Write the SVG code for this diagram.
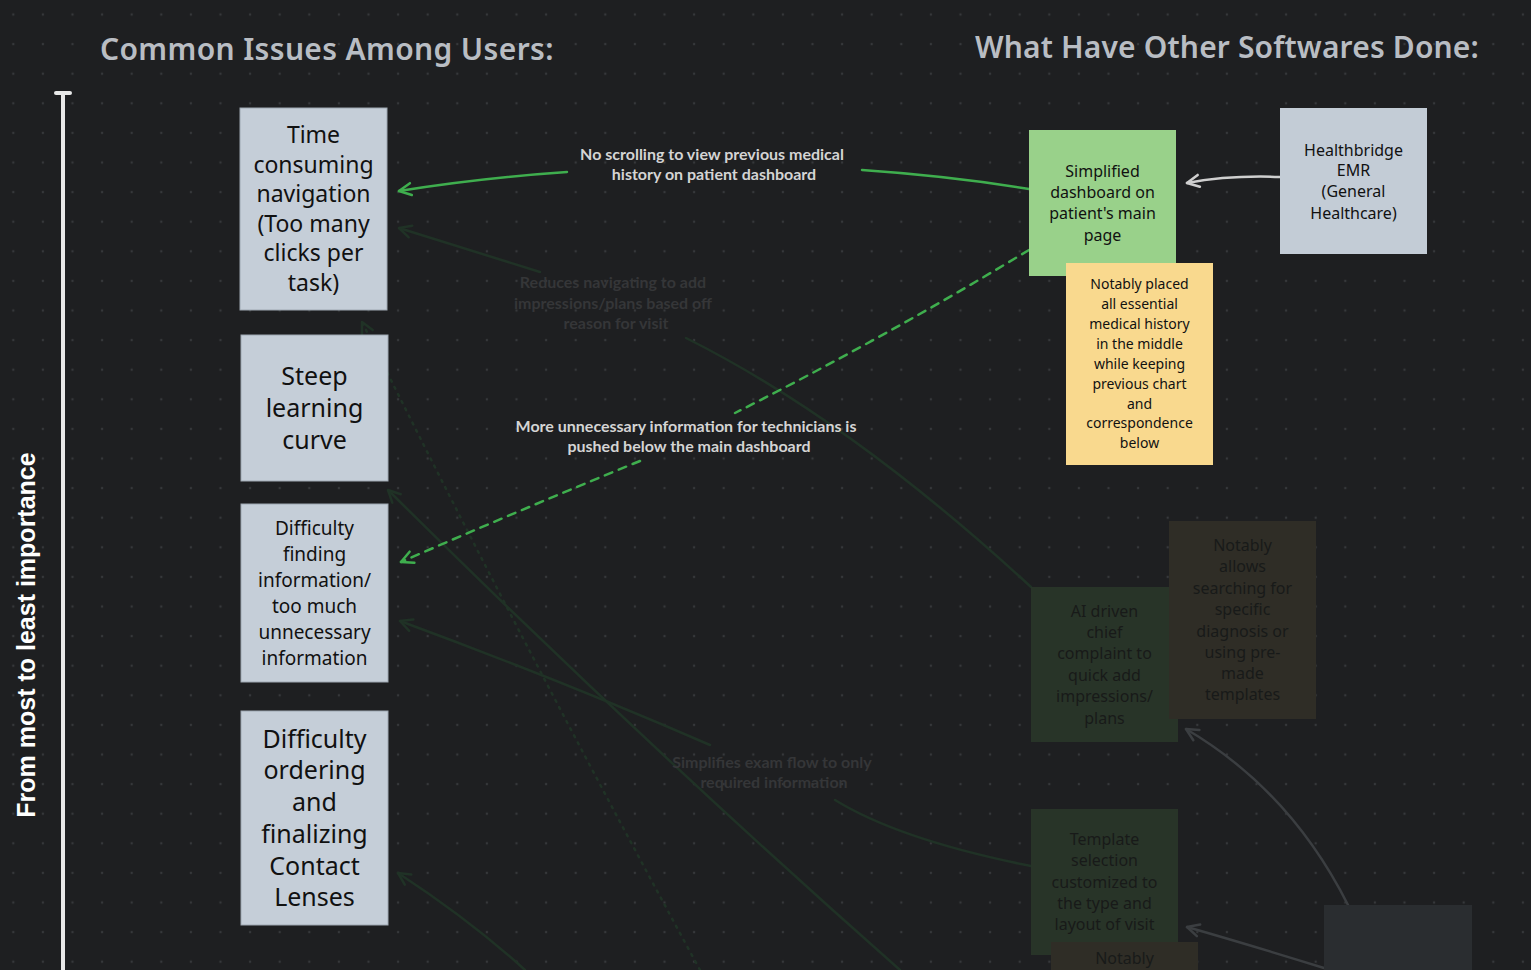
<svg xmlns="http://www.w3.org/2000/svg" width="1531" height="970" viewBox="0 0 1531 970">
<defs>
<pattern id="dots" x="13.3" y="14.5" width="29.6" height="29.6" patternUnits="userSpaceOnUse">
<circle cx="0" cy="0" r="1.2" fill="#36383b"/><circle cx="29.6" cy="0" r="1.2" fill="#36383b"/><circle cx="0" cy="29.6" r="1.2" fill="#36383b"/><circle cx="29.6" cy="29.6" r="1.2" fill="#36383b"/>
</pattern>
<marker id="aG" markerWidth="20" markerHeight="20" refX="0" refY="0" viewBox="-14 -10 20 20" orient="auto" markerUnits="userSpaceOnUse"><path d="M-12,-6 L0,0 L-12,6" fill="none" stroke="#3fae4e" stroke-width="2.5" stroke-linecap="round" stroke-linejoin="round"/></marker>
<marker id="aW" markerWidth="20" markerHeight="20" refX="0" refY="0" viewBox="-14 -10 20 20" orient="auto" markerUnits="userSpaceOnUse"><path d="M-12,-6 L0,0 L-12,6" fill="none" stroke="#cfcfcf" stroke-width="2.5" stroke-linecap="round" stroke-linejoin="round"/></marker>
<marker id="aF" markerWidth="20" markerHeight="20" refX="0" refY="0" viewBox="-14 -10 20 20" orient="auto" markerUnits="userSpaceOnUse"><path d="M-12,-6 L0,0 L-12,6" fill="none" stroke="#203226" stroke-width="2.5" stroke-linecap="round" stroke-linejoin="round"/></marker>
<marker id="aD" markerWidth="20" markerHeight="20" refX="0" refY="0" viewBox="-14 -10 20 20" orient="auto" markerUnits="userSpaceOnUse"><path d="M-12,-6 L0,0 L-12,6" fill="none" stroke="#3b3e41" stroke-width="2.5" stroke-linecap="round" stroke-linejoin="round"/></marker>
</defs>
<style>
.title{font-family:"Noto Sans","Open Sans",sans-serif;font-weight:600;font-size:30px;fill:#b9bdc3}
.hand{font-family:"Noto Sans","Open Sans",sans-serif;fill:#111;text-anchor:middle}
.lbl{font-family:Lato,"Noto Sans",sans-serif;font-weight:700;font-size:16px;fill:#d4d4d4;text-anchor:middle}
.flbl{font-family:Lato,"Noto Sans",sans-serif;font-weight:700;font-size:16px;fill:#353638;text-anchor:middle}
.ftxt{font-family:"Noto Sans","Open Sans",sans-serif;font-size:16px;fill:#181a19;text-anchor:middle}
.issue{fill:#c5ced8;stroke:#9ea8b2;stroke-width:1}
.cg{fill:none;stroke:#3fae4e;stroke-width:2.5;stroke-linecap:round}
.cf{fill:none;stroke:#203226;stroke-width:2.5;stroke-linecap:round}
.cd{fill:none;stroke:#3b3e41;stroke-width:2.5;stroke-linecap:round}
</style>
<rect width="1531" height="970" fill="#1e1f21"/>
<rect width="1531" height="970" fill="url(#dots)"/>

<text class="title" x="100" y="60" letter-spacing="0.35">Common Issues Among Users:</text>
<text class="title" x="975" y="58" letter-spacing="0.15">What Have Other Softwares Done:</text>

<g id="axis">
<line x1="63" y1="93" x2="63" y2="970" stroke="#e8e8e8" stroke-width="4"/>
<line x1="56" y1="93" x2="70" y2="93" stroke="#e8e8e8" stroke-width="4" stroke-linecap="round"/>
<text x="0" y="0" transform="translate(35,635) rotate(-90)" text-anchor="middle" font-family="Liberation Sans, Arial, sans-serif" font-weight="700" font-size="25" fill="#ffffff">From most to least importance</text>
</g>

<g id="connectors">
<path class="cf" d="M1031,587 Q850,420 686,338"/>
<path class="cf" d="M540,272 Q470,250 399,228" marker-end="url(#aF)"/>
<path class="cf" d="M1031,866 Q900,840 835,800"/>
<path class="cf" d="M710,745 Q560,680 400,621" marker-end="url(#aF)"/>
<path class="cf" d="M900,970 Q640,740 388,490" marker-end="url(#aF)"/>
<path class="cf" d="M525,970 Q470,920 398,873" marker-end="url(#aF)"/>
<path class="cf" d="M700,970 Q520,640 362,322" stroke-dasharray="2 6" marker-end="url(#aF)"/>
<path class="cd" d="M1348,905 Q1290,790 1186,729" marker-end="url(#aD)"/>
<path class="cd" d="M1324,968 Q1250,945 1187,927" marker-end="url(#aD)"/>
<path class="cg" d="M1029,189 Q950,176 862,170"/>
<path class="cg" d="M567,172 Q480,178 399,191" marker-end="url(#aG)"/>
<path class="cg" d="M1029,250 Q880,340 735,413" stroke-dasharray="8 7"/>
<path class="cg" d="M640,461 Q520,510 401,562" stroke-dasharray="8 7" marker-end="url(#aG)"/>
<path fill="none" stroke="#cfcfcf" stroke-width="2.5" stroke-linecap="round" d="M1280,177 Q1230,175 1187,183" marker-end="url(#aW)"/>
</g>

<g id="labels">
<text class="lbl" x="712" y="160">No scrolling to view previous medical</text>
<text class="lbl" x="714" y="180">history on patient dashboard</text>
<text class="lbl" x="686" y="432">More unnecessary information for technicians is</text>
<text class="lbl" x="689" y="452">pushed below the main dashboard</text>
<text class="flbl" x="613" y="288">Reduces navigating to add</text>
<text class="flbl" x="613" y="309">impressions/plans based off</text>
<text class="flbl" x="616" y="329">reason for visit</text>
<text class="flbl" x="772" y="768">Simplifies exam flow to only</text>
<text class="flbl" x="774" y="788">required information</text>
</g>

<g id="issue-time">
<rect class="issue" x="240" y="108" width="147" height="202"/>
<text class="hand" font-size="23"><tspan x="313.5" y="143">Time</tspan><tspan x="313.5" y="173">consuming</tspan><tspan x="313.5" y="202">navigation</tspan><tspan x="313.5" y="232">(Too many</tspan><tspan x="313.5" y="261">clicks per</tspan><tspan x="313.5" y="291">task)</tspan></text>
</g>
<g id="issue-steep">
<rect class="issue" x="241" y="335" width="147" height="146"/>
<text class="hand" font-size="25"><tspan x="314.5" y="385">Steep</tspan><tspan x="314.5" y="417">learning</tspan><tspan x="314.5" y="449">curve</tspan></text>
</g>
<g id="issue-finding">
<rect class="issue" x="241" y="504" width="147" height="178"/>
<text class="hand" font-size="19"><tspan x="314.5" y="535">Difficulty</tspan><tspan x="314.5" y="561">finding</tspan><tspan x="314.5" y="587">information/</tspan><tspan x="314.5" y="613">too much</tspan><tspan x="314.5" y="639">unnecessary</tspan><tspan x="314.5" y="665">information</tspan></text>
</g>
<g id="issue-ordering">
<rect class="issue" x="241" y="711" width="147" height="214"/>
<text class="hand" font-size="25"><tspan x="314.5" y="748">Difficulty</tspan><tspan x="314.5" y="779">ordering</tspan><tspan x="314.5" y="811">and</tspan><tspan x="314.5" y="843">finalizing</tspan><tspan x="314.5" y="875">Contact</tspan><tspan x="314.5" y="906">Lenses</tspan></text>
</g>

<g id="sol-dashboard">
<rect x="1029" y="130" width="147" height="146" fill="#99d18a"/>
<text class="hand" font-size="16"><tspan x="1102.5" y="177">Simplified</tspan><tspan x="1102.5" y="198">dashboard on</tspan><tspan x="1102.5" y="219">patient's main</tspan><tspan x="1102.5" y="241">page</tspan></text>
</g>
<g id="note-placed">
<rect x="1066" y="263" width="147" height="202" fill="#f9d98e"/>
<text class="hand" font-size="14"><tspan x="1139.5" y="289">Notably placed</tspan><tspan x="1139.5" y="309">all essential</tspan><tspan x="1139.5" y="329">medical history</tspan><tspan x="1139.5" y="349">in the middle</tspan><tspan x="1139.5" y="369">while keeping</tspan><tspan x="1139.5" y="389">previous chart</tspan><tspan x="1139.5" y="409">and</tspan><tspan x="1139.5" y="428">correspondence</tspan><tspan x="1139.5" y="448">below</tspan></text>
</g>
<g id="sw-healthbridge">
<rect x="1280" y="108" width="147" height="146" fill="#c3ccd6"/>
<text class="hand" font-size="16"><tspan x="1353.5" y="156">Healthbridge</tspan><tspan x="1353.5" y="176">EMR</tspan><tspan x="1353.5" y="197">(General</tspan><tspan x="1353.5" y="219">Healthcare)</tspan></text>
</g>

<g id="sol-ai">
<rect x="1031" y="587" width="147" height="155" fill="#283428"/>
<text class="ftxt" fill="#181a19"><tspan x="1104.5" y="617">AI driven</tspan><tspan x="1104.5" y="638">chief</tspan><tspan x="1104.5" y="659">complaint to</tspan><tspan x="1104.5" y="681">quick add</tspan><tspan x="1104.5" y="702">impressions/</tspan><tspan x="1104.5" y="724">plans</tspan></text>
</g>
<g id="note-search">
<rect x="1169" y="521" width="147" height="198" fill="#2f2d26"/>
<text class="ftxt" fill="#181a19"><tspan x="1242.5" y="551">Notably</tspan><tspan x="1242.5" y="572">allows</tspan><tspan x="1242.5" y="594">searching for</tspan><tspan x="1242.5" y="615">specific</tspan><tspan x="1242.5" y="637">diagnosis or</tspan><tspan x="1242.5" y="658">using pre-</tspan><tspan x="1242.5" y="679">made</tspan><tspan x="1242.5" y="700">templates</tspan></text>
</g>
<g id="sol-template">
<rect x="1031" y="809" width="147" height="146" fill="#283428"/>
<text class="ftxt" fill="#181a19"><tspan x="1104.5" y="845">Template</tspan><tspan x="1104.5" y="866">selection</tspan><tspan x="1104.5" y="888">customized to</tspan><tspan x="1104.5" y="909">the type and</tspan><tspan x="1104.5" y="930">layout of visit</tspan></text>
</g>
<g id="note-bottom">
<rect x="1051" y="942" width="147" height="40" fill="#2f2d26"/>
<text class="ftxt" fill="#181a19" font-size="15"><tspan x="1124.5" y="964">Notably</tspan></text>
</g>
<g id="sw-bottom">
<rect x="1324" y="905" width="148" height="70" fill="#2a2d30"/>
</g>
</svg>
